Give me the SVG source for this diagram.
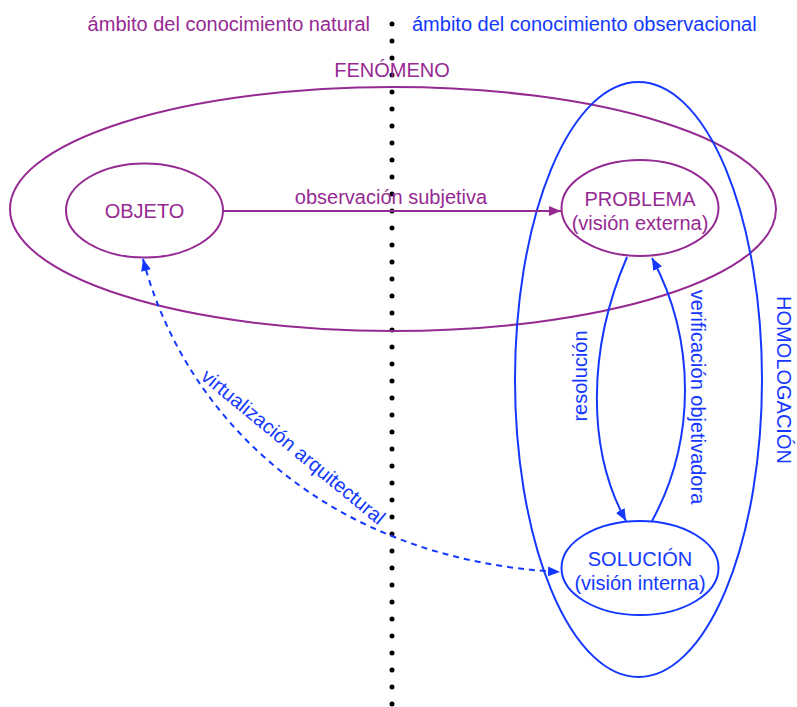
<svg xmlns="http://www.w3.org/2000/svg" width="797" height="707" viewBox="0 0 797 707">
  <style>
    text { font-family: "Liberation Sans", Arial, sans-serif; font-size: 20px; }
    .p { fill: #962a93; }
    .b { fill: #1438ff; }
    .ep { fill: none; stroke: #962a93; stroke-width: 2; }
    .eb { fill: none; stroke: #1438ff; stroke-width: 2; }
    .mid { text-anchor: middle; }
  </style>
  <defs>
    <marker id="ahP" viewBox="0 0 12 10" refX="12" refY="5" markerWidth="12" markerHeight="10" markerUnits="userSpaceOnUse" orient="auto">
      <path d="M0,0 L12,5 L0,10 Z" fill="#962a93"/>
    </marker>
    <marker id="ahB" viewBox="0 0 12 10" refX="12" refY="5" markerWidth="12" markerHeight="10" markerUnits="userSpaceOnUse" orient="auto-start-reverse">
      <path d="M0,0 L12,5 L0,10 Z" fill="#1438ff"/>
    </marker>
  </defs>

  <rect width="797" height="707" fill="#ffffff"/>

  <!-- domain headings -->
  <text class="p" x="370" y="31" text-anchor="end">ámbito del conocimiento natural</text>
  <text class="b" x="412" y="31">ámbito del conocimiento observacional</text>

  <!-- dividing dotted line -->
  <line x1="392" y1="24" x2="392" y2="705" stroke="#000" stroke-width="5" stroke-linecap="round" stroke-dasharray="0 17"/>

  <!-- enclosing regions -->
  <g id="fenomeno">
    <ellipse class="ep" cx="393" cy="209" rx="383" ry="122"/>
    <text class="p mid" x="392" y="77">FENÓMENO</text>
  </g>
  <g id="homologacion">
    <ellipse class="eb" cx="638.5" cy="379.5" rx="123.5" ry="297.5"/>
    <text class="b mid" transform="translate(777,380) rotate(90)">HOMOLOGACIÓN</text>
  </g>

  <!-- nodes -->
  <g id="objeto">
    <ellipse class="ep" cx="144.5" cy="210.5" rx="78.5" ry="47"/>
    <text class="p mid" x="144.5" y="217.5">OBJETO</text>
  </g>
  <g id="problema">
    <ellipse class="ep" cx="640" cy="208" rx="78.5" ry="48"/>
    <text class="p mid" x="640" y="206">PROBLEMA</text>
    <text class="p mid" x="640" y="230">(visión externa)</text>
  </g>
  <g id="solucion">
    <ellipse class="eb" cx="640" cy="568" rx="78.5" ry="47"/>
    <text class="b mid" x="640" y="566">SOLUCIÓN</text>
    <text class="b mid" x="640" y="590">(visión interna)</text>
  </g>

  <!-- connectors -->
  <g id="connectors">
    <line x1="223" y1="211" x2="561" y2="211" stroke="#962a93" stroke-width="2" marker-end="url(#ahP)"/>
    <text class="p mid" x="391" y="204">observación subjetiva</text>

    <path d="M627,257 C587,350 587,450 626,521" fill="none" stroke="#1438ff" stroke-width="2" marker-end="url(#ahB)"/>
    <text class="b mid" transform="translate(587,376) rotate(-90)">resolución</text>

    <path d="M652,521 C696,440 696,340 652,258" fill="none" stroke="#1438ff" stroke-width="2" marker-end="url(#ahB)"/>
    <text class="b mid" transform="translate(691,397) rotate(90)">verificación objetivadora</text>

    <path d="M143,259 C185,420 330,560 560,572" fill="none" stroke="#1438ff" stroke-width="2" stroke-dasharray="6 5" marker-start="url(#ahB)" marker-end="url(#ahB)"/>
    <text class="b mid" transform="translate(289,452) rotate(39.5)">virtualización arquitectural</text>
  </g>
</svg>
